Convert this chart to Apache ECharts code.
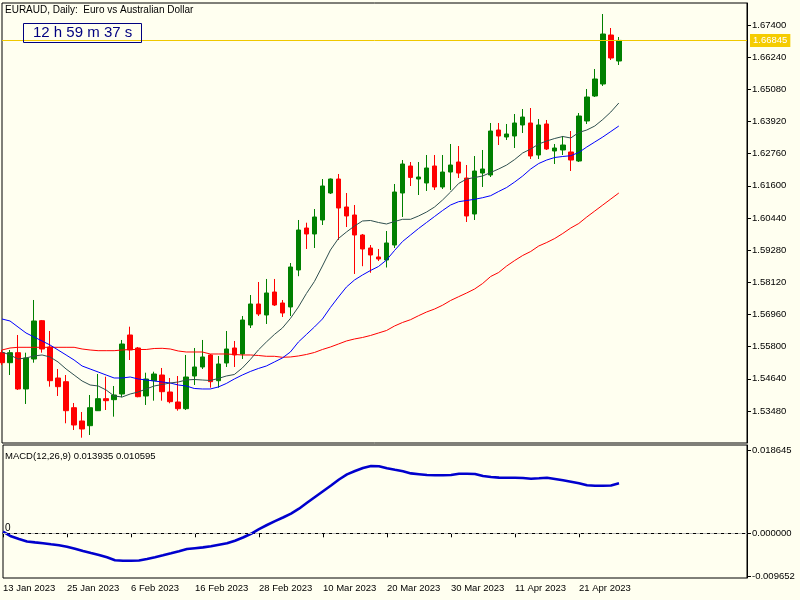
<!DOCTYPE html>
<html>
<head>
<meta charset="utf-8">
<script src="https://cdn.jsdelivr.net/npm/echarts/dist/echarts.min.js"></script>
<style>
html,body{margin:0;padding:0;background:#fffff0;}
#c{width:800px;height:600px;}
</style>
</head>
<body>
<div id="c"></div>
<script>
// ---- data ----
const titleText = 'EURAUD, Daily:  Euro vs Australian Dollar';
const timerText = '12 h 59 m 37 s';
const macdTitle = 'MACD(12,26,9) 0.013935 0.010595';
const tickLabels = ['13 Jan 2023','25 Jan 2023','6 Feb 2023','16 Feb 2023','28 Feb 2023','10 Mar 2023','20 Mar 2023','30 Mar 2023','11 Apr 2023','21 Apr 2023'];
const barsPerTick = 8;
const totalSlots = 94;
const priceTicks = [1.53480,1.54640,1.55800,1.56960,1.58120,1.59280,1.60440,1.61600,1.62760,1.63920,1.65080,1.66240,1.67400];
const macdTicks = [0.018645, 0, -0.009652];

const opens = [1.55584,1.55223,1.55584,1.54275,1.55356,1.56738,1.55789,1.54671,1.54538,1.53600,
1.53121,1.52951,1.53492,1.53925,1.53889,1.54094,1.56222,1.55753,1.54022,1.54574,
1.54779,1.54166,1.53806,1.53564,1.54743,1.55068,1.55501,1.54574,1.55212,1.55753,
1.55537,1.56582,1.57340,1.56943,1.57772,1.57376,1.57232,1.58566,1.60080,1.59864,
1.60369,1.61342,1.61847,1.60838,1.60549,1.59828,1.59359,1.59035,1.58926,1.59467,
1.61342,1.62316,1.61847,1.61703,1.62316,1.61559,1.62099,1.62460,1.61883,1.60585,
1.62063,1.61991,1.63614,1.63362,1.63398,1.63795,1.63867,1.62713,1.63831,1.62857,
1.62893,1.62821,1.62496,1.63939,1.64840,1.65273,1.67040,1.66102];
const closes = [1.55223,1.55584,1.54275,1.55393,1.56727,1.55717,1.54574,1.54358,1.53492,1.52976,
1.52832,1.53600,1.53925,1.53853,1.54058,1.55897,1.55681,1.53997,1.54635,1.54815,
1.54177,1.53817,1.53564,1.54707,1.55068,1.55429,1.54538,1.55176,1.55717,1.55501,
1.56763,1.57340,1.56979,1.57737,1.57304,1.57015,1.58674,1.60008,1.59864,1.60477,
1.61595,1.61847,1.60801,1.60513,1.59828,1.59323,1.59107,1.58962,1.59540,1.61378,
1.62388,1.61905,1.61919,1.62244,1.61559,1.62099,1.62352,1.62063,1.60513,1.62135,
1.62208,1.63578,1.63398,1.63470,1.63867,1.64083,1.62677,1.63795,1.62929,1.62965,
1.63073,1.62532,1.64119,1.64804,1.65453,1.67076,1.66211,1.66845];
const highs = [1.55681,1.55681,1.56222,1.55584,1.57484,1.56763,1.56366,1.54996,1.54779,1.53770,
1.53445,1.54058,1.54815,1.54718,1.54383,1.56042,1.56521,1.55789,1.54862,1.54898,
1.55032,1.54671,1.54743,1.55501,1.55753,1.56042,1.55537,1.55465,1.56366,1.56006,
1.56907,1.57664,1.58133,1.58242,1.58242,1.57484,1.58818,1.60369,1.60271,1.60765,
1.61847,1.61865,1.62028,1.61342,1.60910,1.59864,1.59467,1.59323,1.59972,1.61667,
1.62532,1.62460,1.62460,1.62713,1.62713,1.62713,1.63109,1.63037,1.62352,1.62676,
1.62893,1.63867,1.63867,1.63831,1.64191,1.64371,1.64407,1.64011,1.63975,1.63109,
1.63398,1.63578,1.64227,1.65093,1.65814,1.67797,1.67292,1.66968];
const lows = [1.55140,1.54779,1.54239,1.53734,1.55223,1.55584,1.54358,1.54022,1.53038,1.52796,
1.52519,1.52616,1.53481,1.53517,1.53276,1.53975,1.55320,1.53975,1.53698,1.53853,
1.53853,1.53759,1.53492,1.53517,1.54419,1.54996,1.54322,1.54322,1.55068,1.55068,
1.55356,1.56474,1.56907,1.56619,1.57268,1.56871,1.56907,1.58342,1.59323,1.59359,
1.60188,1.61306,1.59648,1.60116,1.58422,1.58702,1.58466,1.58890,1.58656,1.59359,
1.60477,1.61595,1.61270,1.61415,1.61451,1.61487,1.61451,1.61883,1.60296,1.60369,
1.61559,1.61919,1.63073,1.63254,1.62965,1.63506,1.62569,1.62569,1.62893,1.62388,
1.62713,1.62136,1.62460,1.63831,1.64804,1.65201,1.66138,1.65958];

const maFast = [1.55609,1.55501,1.55356,1.55393,1.55465,1.55501,1.55429,1.55248,1.54996,1.54779,
1.54563,1.54419,1.54383,1.54239,1.54022,1.53986,1.54094,1.54166,1.54275,1.54383,
1.54437,1.54491,1.54527,1.54599,1.54617,1.54599,1.54581,1.54653,1.54743,1.54797,
1.55032,1.55338,1.55681,1.55969,1.56240,1.56474,1.56817,1.57232,1.57718,1.58151,
1.58710,1.59287,1.59702,1.59936,1.60152,1.60333,1.60351,1.60279,1.60225,1.60315,
1.60394,1.60394,1.60513,1.60657,1.60838,1.61090,1.61378,1.61685,1.61847,1.61901,
1.61955,1.62082,1.62208,1.62352,1.62550,1.62785,1.62929,1.63109,1.63218,1.63308,
1.63380,1.63326,1.63524,1.63614,1.63758,1.63993,1.64263,1.64588];
const maMid = [1.56799,1.56727,1.56510,1.56294,1.56150,1.56006,1.55861,1.55681,1.55501,1.55320,
1.55104,1.54996,1.54888,1.54779,1.54671,1.54671,1.54707,1.54635,1.54599,1.54563,
1.54527,1.54491,1.54419,1.54383,1.54293,1.54275,1.54275,1.54347,1.54473,1.54635,
1.54779,1.54906,1.55014,1.55104,1.55248,1.55393,1.55609,1.55969,1.56240,1.56510,
1.56799,1.57214,1.57592,1.57953,1.58205,1.58385,1.58548,1.58692,1.58926,1.59269,
1.59593,1.59828,1.60062,1.60279,1.60495,1.60711,1.60910,1.61029,1.61072,1.61115,
1.61173,1.61245,1.61397,1.61541,1.61739,1.61955,1.62208,1.62406,1.62532,1.62623,
1.62659,1.62687,1.62803,1.63001,1.63181,1.63362,1.63560,1.63758];
const maSlow = [1.55681,1.55753,1.55778,1.55778,1.55778,1.55778,1.55778,1.55778,1.55778,1.55778,
1.55717,1.55681,1.55656,1.55656,1.55656,1.55681,1.55699,1.55699,1.55699,1.55735,
1.55742,1.55717,1.55645,1.55609,1.55609,1.55609,1.55537,1.55537,1.55537,1.55519,
1.55501,1.55501,1.55483,1.55454,1.55454,1.55418,1.55429,1.55465,1.55519,1.55591,
1.55699,1.55789,1.55897,1.56006,1.56078,1.56132,1.56204,1.56294,1.56384,1.56546,
1.56673,1.56774,1.56918,1.57051,1.57159,1.57296,1.57466,1.57603,1.57736,1.57881,
1.58079,1.58331,1.58476,1.58710,1.58908,1.59089,1.59233,1.59431,1.59557,1.59702,
1.59882,1.60080,1.60243,1.60477,1.60693,1.60910,1.61126,1.61342];
const macdSignal = [0.00036,-0.00068,-0.00129,-0.00185,-0.00205,-0.00223,-0.00248,-0.00271,-0.00302,-0.00348,
-0.00400,-0.00445,-0.00488,-0.00542,-0.00607,-0.00619,-0.00619,-0.00614,-0.00580,-0.00540,
-0.00497,-0.00451,-0.00404,-0.00354,-0.00336,-0.00318,-0.00291,-0.00257,-0.00226,-0.00167,
-0.00095,-0.00011,0.00095,0.00187,0.00275,0.00357,0.00445,0.00555,0.00688,0.00819,
0.00950,0.01079,0.01214,0.01330,0.01406,0.01474,0.01519,0.01512,0.01467,0.01433,
0.01400,0.01352,0.01334,0.01316,0.01309,0.01309,0.01316,0.01345,0.01345,0.01339,
0.01293,0.01271,0.01257,0.01255,0.01255,0.01248,0.01233,0.01242,0.01255,0.01226,
0.01196,0.01165,0.01129,0.01084,0.01074,0.01074,0.01079,0.01129];

// ---- build ----
const FONT = '"Liberation Sans", Arial, sans-serif';
const cats = Array.from({length: totalSlots}, (_, i) => String(i));
const showTick = (i) => i % barsPerTick === 0 && (i / barsPerTick) < tickLabels.length;
const candles = opens.map((o, i) => [o, closes[i], lows[i], highs[i]]);
const lastClose = closes[closes.length - 1];

const chart = echarts.init(document.getElementById('c'));
chart.setOption({
  animation: false,
  backgroundColor: '#fffff0',
  textStyle: { fontFamily: FONT },
  title: [
    { text: titleText, left: 5, top: 5, padding: 0,
      textStyle: { fontSize: 10, fontWeight: 'normal', color: '#000', fontFamily: FONT } },
    { text: timerText, left: 23, top: 23, padding: [1, 10, 1, 10],
      borderColor: '#000080', borderWidth: 1,
      textStyle: { fontSize: 15, lineHeight: 18, fontWeight: 'normal', color: '#000080', fontFamily: FONT } },
    { text: macdTitle, left: 5, top: 451, padding: 0,
      textStyle: { fontSize: 9.5, fontWeight: 'normal', color: '#000', fontFamily: FONT } },
    { text: '0', left: 5, top: 523, padding: 0,
      textStyle: { fontSize: 10, fontWeight: 'normal', color: '#000', fontFamily: FONT } }
  ],
  grid: [
    { left: 2, top: 3, width: 745, height: 440, show: true, borderColor: '#000', borderWidth: 1 },
    { left: 2, top: 445, width: 745, height: 133, show: true, borderColor: '#000', borderWidth: 1 }
  ],
  xAxis: [
    { gridIndex: 0, type: 'category', data: cats, boundaryGap: false, show: false },
    { gridIndex: 1, type: 'category', data: cats, boundaryGap: false,
      axisLine: { show: true, lineStyle: { color: '#000' } },
      axisTick: { show: true, interval: showTick, length: 4, lineStyle: { color: '#000' } },
      axisLabel: { interval: showTick, align: 'left', margin: 5, fontSize: 9.5, color: '#000',
        formatter: (v, i) => showTick(i) ? tickLabels[i / barsPerTick] : '' },
      splitLine: { show: false } }
  ],
  yAxis: [
    { gridIndex: 0, type: 'value', position: 'right', min: 1.52327, max: 1.68194,
      axisLine: { show: true, lineStyle: { color: '#000' } },
      axisTick: { show: true, customValues: priceTicks, length: 4, lineStyle: { color: '#000' } },
      axisLabel: { customValues: priceTicks, formatter: v => v.toFixed(5), fontSize: 9.5, margin: 5, color: '#000' },
      splitLine: { show: false } },
    { gridIndex: 1, type: 'value', position: 'right', min: -0.01009, max: 0.019932,
      axisLine: { show: true, lineStyle: { color: '#000' } },
      axisTick: { show: true, customValues: macdTicks, length: 4, lineStyle: { color: '#000' } },
      axisLabel: { customValues: macdTicks, formatter: v => v.toFixed(6), fontSize: 9.5, margin: 5, color: '#000' },
      splitLine: { show: false } }
  ],
  series: [
    { type: 'candlestick', xAxisIndex: 0, yAxisIndex: 0, data: candles, barWidth: 5,
      itemStyle: { color: '#008000', color0: '#ff0000', borderColor: '#008000', borderColor0: '#ff0000', borderWidth: 1 },
      markLine: { silent: true, symbol: ['none', 'none'], animation: false, precision: 5,
        lineStyle: { color: '#f0c800', type: 'solid', width: 1 },
        label: { show: true, position: 'end', distance: 3, formatter: lastClose.toFixed(5),
          color: '#fff', backgroundColor: '#f5cc00', padding: [2, 3, 1, 3], fontSize: 9.5 },
        data: [{ yAxis: lastClose }] } },
    { type: 'line', xAxisIndex: 0, yAxisIndex: 0, data: maSlow, symbol: 'none',
      lineStyle: { color: '#ff0000', width: 1 } },
    { type: 'line', xAxisIndex: 0, yAxisIndex: 0, data: maMid, symbol: 'none',
      lineStyle: { color: '#0000ff', width: 1 } },
    { type: 'line', xAxisIndex: 0, yAxisIndex: 0, data: maFast, symbol: 'none',
      lineStyle: { color: '#2f4f4f', width: 1 } },
    { type: 'line', xAxisIndex: 1, yAxisIndex: 1, data: macdSignal, symbol: 'none',
      lineStyle: { color: '#0000cd', width: 2.6 },
      markLine: { silent: true, symbol: ['none', 'none'], animation: false,
        lineStyle: { color: '#b4b4b4', type: [4, 3], width: 1 },
        label: { show: false }, data: [{ yAxis: 0 }] } }
  ]
});
</script>
</body>
</html>
